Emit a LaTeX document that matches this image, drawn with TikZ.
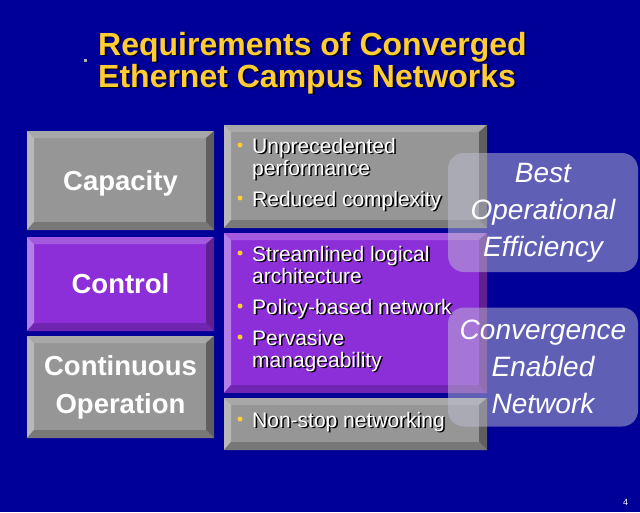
\documentclass[tikz,border=0pt]{standalone}
\usepackage{fontspec}
\setmainfont{Liberation Sans}
\usepackage{tikz}

\definecolor{slidebg}{RGB}{0,0,153}
\definecolor{titleyellow}{RGB}{255,204,51}
\definecolor{greyface}{RGB}{150,150,150}
\definecolor{greytop}{RGB}{168,168,168}
\definecolor{greyleft}{RGB}{184,184,184}
\definecolor{greyright}{RGB}{95,95,95}
\definecolor{greybottom}{RGB}{120,120,120}
\definecolor{purpleface}{RGB}{140,47,217}
\definecolor{purpletop}{RGB}{163,90,223}
\definecolor{purpleleft}{RGB}{180,127,230}
\definecolor{purpleright}{RGB}{95,32,144}
\definecolor{purplebottom}{RGB}{112,38,176}
\definecolor{veilgrey}{RGB}{190,190,210}

% text with a black drop shadow (anchored at the baseline of its last line)
\newcommand{\shadowed}[4]{%
  \node[#2, text=black] (#1shadow) at ([xshift=1.6pt,yshift=-1.6pt]#3) {#4};
  \node[#2] (#1) at (#3) {#4};}

\begin{document}
\begin{tikzpicture}[x=1pt,y=-1pt,
  bevel/.style={fill=#1face, inner sep=0pt, path picture={
    \path (path picture bounding box.north west) coordinate (nw) +(7pt,-7pt) coordinate (inw)
          (path picture bounding box.north east) coordinate (ne) +(-8pt,-7pt) coordinate (ine)
          (path picture bounding box.south east) coordinate (se) +(-8pt,8pt) coordinate (ise)
          (path picture bounding box.south west) coordinate (sw) +(7pt,8pt) coordinate (isw);
    \fill[#1top] (nw) -- (ne) -- (ine) -- (inw) -- cycle;
    \fill[#1left] (nw) -- (inw) -- (isw) -- (sw) -- cycle;
    \fill[#1right] (ne) -- (se) -- (ise) -- (ine) -- cycle;
    \fill[#1bottom] (sw) -- (se) -- (ise) -- (isw) -- cycle;}},
  headbox/.style={bevel=#1, minimum width=187pt, text=white, align=center,
    font=\fontsize{27.5}{38}\selectfont\bfseries},
  listbox/.style={bevel=#1, minimum width=263pt},
  titletext/.style={anchor=base west, align=left, inner sep=0pt, text=titleyellow,
    font=\fontsize{32}{32}\selectfont\bfseries},
  itemtext/.style={anchor=base west, align=left, inner sep=0pt, text=white,
    font=\fontsize{21}{22}\selectfont},
  bulletdot/.style={circle, fill=titleyellow, inner sep=0pt, minimum size=5pt},
  veil/.style={rounded corners=16pt, fill=veilgrey, fill opacity=0.5, text opacity=1,
    text=white, minimum width=190pt, minimum height=119pt, align=center,
    font=\fontsize{28}{37}\selectfont\itshape}]

\fill[slidebg] (0,0) rectangle (640,512);
\useasboundingbox (0,0) rectangle (640,512);

% title
\node[fill=gray!60, inner sep=0pt, minimum size=3pt] (mark) at (85.5,60.5) {};
\shadowed{title}{titletext}{98,87}{Requirements of Converged\\Ethernet Campus Networks}

% left column
\node[headbox=grey, minimum height=99pt, text depth=0pt] (capacity) at (120.5,180.5) {Capacity};
\node[headbox=purple, minimum height=94pt] (control) at (120.5,284) {Control};
\node[headbox=grey, minimum height=102pt] (continuous) at (120.5,387) {Continuous\\Operation};

% right column
\node[listbox=grey, minimum height=103pt] (capacitylist) at (355.5,176.5) {};
\node[listbox=purple, minimum height=160pt] (controllist) at (355.5,313) {};
\node[listbox=grey, minimum height=52pt] (continuouslist) at (355.5,424) {};

\shadowed{unprec}{itemtext}{252,175}{Unprecedented\\performance}
\shadowed{reduced}{itemtext}{252,206}{Reduced complexity}
\shadowed{stream}{itemtext}{252,283}{Streamlined logical\\architecture}
\shadowed{policy}{itemtext}{252,314}{Policy-based network}
\shadowed{perv}{itemtext}{252,367}{Pervasive\\manageability}
\shadowed{nonstop}{itemtext}{252,427}{Non-stop networking}

\foreach \it/\up in {unprec/30,reduced/8,stream/30,policy/8,perv/30,nonstop/8}
  \node[bulletdot] (\it dot) at ([xshift=-12pt,yshift=\up pt]\it.base west) {};

% overlays
\node[veil] (efficiency) at (543,212.5) {Best\\Operational\\Efficiency};
\node[veil] (enabled) at (543,367) {Convergence\\Enabled\\Network};

\node[text=white, font=\fontsize{9}{9}\selectfont] (pageno) at (625.5,502) {4};

\end{tikzpicture}
\end{document}
